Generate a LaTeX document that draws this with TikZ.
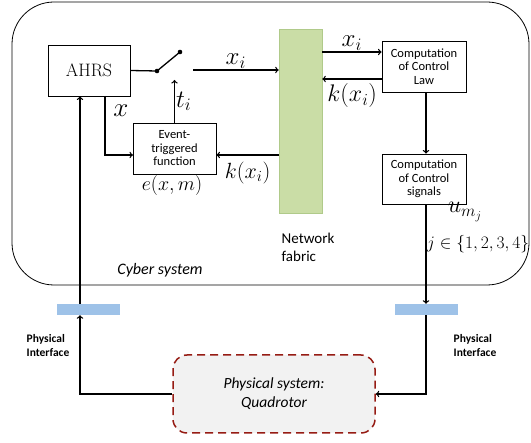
\documentclass[tikz,border=0pt]{standalone}
\usepackage{fix-cm}
\usepackage{fontspec}
\setsansfont{Carlito}
\usetikzlibrary{arrows,positioning}
\definecolor{fabricgreen}{RGB}{202,221,166}
\definecolor{fabricedge}{RGB}{176,202,138}
\definecolor{ifaceblue}{RGB}{158,194,232}
\definecolor{plantred}{RGB}{150,28,20}

\begin{document}
\begin{tikzpicture}[x=1pt,y=-1pt]
  \tikzstyle{block} = [rectangle, draw, line width=0.8pt, fill=white, minimum width=84pt, minimum height=51pt, align=center, font=\sffamily\fontsize{12.5}{13.5}\selectfont]
  \tikzstyle{iface} = [rectangle, fill=ifaceblue, minimum width=63pt, minimum height=11pt, inner sep=0pt]
  \tikzstyle{lbl} = [font=\sffamily\bfseries\fontsize{11.5}{14}\selectfont, align=left]
  \tikzstyle{sig} = [font=\fontsize{25}{27}\selectfont, inner sep=1pt]
  \tikzstyle{link} = [->, line width=1.3pt]

  \useasboundingbox (0,0) rectangle (531,443);

  % cyber part
  \node[rectangle, draw, line width=0.8pt, rounded corners=42pt, minimum width=517pt, minimum height=283pt] (cyber) at (270.5,143.5) {};
  \node[block, minimum width=82pt] (ahrs) at (89,70.5) {\rmfamily\fontsize{18}{20}\selectfont AHRS};
  \node[block, minimum width=83pt] (event) at (174.5,148.5) {Event-\\triggered\\function};
  \node[rectangle, fill=fabricgreen, draw=fabricedge, line width=0.6pt, minimum width=43pt, minimum height=184pt] (fabric) at (300.5,121) {};
  \node[block] (law) at (424,66.5) {Computation\\of Control\\Law};
  \node[block, minimum height=50pt] (signals) at (424,179) {Computation\\of Control\\signals};

  % physical part
  \node[iface] (ifl) at (88,309.5) {};
  \node[iface] (ifr) at (426,309.5) {};
  \node[rectangle, draw=plantred, dash pattern=on 8pt off 5pt, line width=1.5pt, rounded corners=14pt, fill=gray!10, minimum width=202pt, minimum height=78pt, font=\sffamily\itshape\fontsize{15.5}{19}\selectfont, align=center] (plant) at (274,394) {Physical system:\\Quadrotor};

  % switch
  \coordinate (s1) at (157,71);
  \coordinate (s2) at (180,52);
  \coordinate (s3) at (193,70);
  \draw[line width=1.3pt] (ahrs.east) -- (s1) -- (s2);
  \fill (s1) circle (2.3pt);
  \fill (s2) circle (2.3pt);
  \draw[link] (s3) -- (s3 -| fabric.west) node[midway, above, sig] {$x_i$};
  \coordinate (tin) at (174,80);
  \draw[link] (event.north) -- (event.north |- tin) node[midway, right, sig] {$t_i$};

  \coordinate (xb) at (105,96);
  \coordinate (xe) at (133,155);
  \draw[link] (xb) |- (xe);
  \node[sig, font=\fontsize{27}{29}\selectfont] (xlbl) at (121,111) {$x$};

  \coordinate (kf) at (279,155);
  \draw[link] (kf) -- (kf -| event.east) node[midway, below=5pt, sig, font=\fontsize{22}{24}\selectfont] {$k(x_i)$};
  \node[font=\fontsize{20}{22}\selectfont] (elbl) at (172,186) {$e(x,m)$};

  \coordinate (xr) at (322,52);
  \draw[link] (xr) -- (xr -| law.west) node[midway, above, sig] {$x_i$};
  \coordinate (kr) at (382,79);
  \draw[link] (kr) -- (kr -| fabric.east) node[midway, below=3pt, sig, font=\fontsize{24}{26}\selectfont] {$k(x_i)$};

  \draw[link] ([xshift=2pt]law.south) -- ([xshift=2pt]signals.north);
  \draw[link] (signals.south -| ifr) -- (ifr.north);
  \node[font=\fontsize{24}{26}\selectfont] (ulbl) at (465,212) {$u_{m_j}$};
  \node[font=\fontsize{17.5}{20}\selectfont] (jlbl) at (478,244) {$j\in\{1,2,3,4\}$};

  \draw[link] (ifr.south) |- (plant.east);
  \coordinate (lb) at (80,394);
  \draw[link] (plant.west) -- (lb) -- (lb |- ifl.south);
  \draw[link] (lb |- ifl.north) -- (lb |- ahrs.south);

  % labels
  \node[lbl] (pil) at (48,346) {Physical\\Interface};
  \node[lbl] (pir) at (475,346) {Physical\\Interface};
  \node[font=\sffamily\itshape\fontsize{16}{18}\selectfont] (cyblbl) at (160,270) {Cyber system};
  \node[font=\sffamily\fontsize{15}{18}\selectfont, align=left] (netlbl) at (308,247) {Network\\fabric};
\end{tikzpicture}
\end{document}
